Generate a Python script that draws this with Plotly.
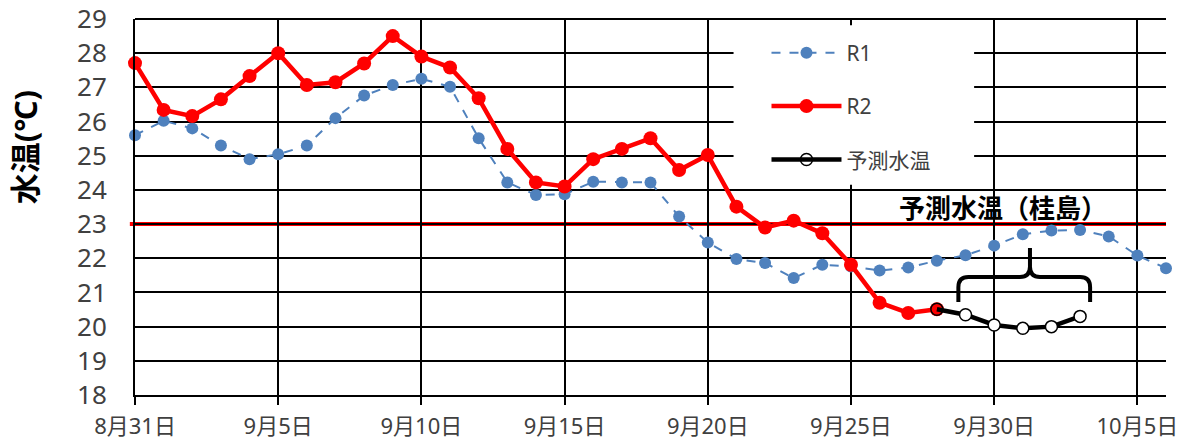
import plotly.graph_objects as go
import pandas as pd

# ---- data ----
dates_r1 = pd.date_range("2021-08-31", "2021-10-06").strftime("%Y-%m-%d").tolist()
r1 = [25.6, 26.02, 25.8, 25.3, 24.9, 25.04, 25.3, 26.1, 26.76, 27.07,
      27.25, 27.02, 25.51, 24.22, 23.85, 23.87, 24.24, 24.22, 24.22, 23.22,
      22.46, 21.98, 21.86, 21.42, 21.81, 21.76, 21.64, 21.73, 21.93, 22.09,
      22.37, 22.7, 22.81, 22.83, 22.64, 22.08, 21.71]
dates_r2 = dates_r1[:29]
r2 = [27.71, 26.34, 26.16, 26.65, 27.33, 28.0, 27.07, 27.15, 27.7, 28.5,
      27.9, 27.58, 26.68, 25.2, 24.22, 24.1, 24.9, 25.2, 25.51, 24.58,
      25.02, 23.51, 22.9, 23.1, 22.73, 21.81, 20.7, 20.4, 20.51]
dates_fc = dates_r1[28:34]
forecast = [20.51, 20.35, 20.05, 19.95, 20.0, 20.3]
threshold = 23.0
tick_dates = ["2021-08-31", "2021-09-05", "2021-09-10", "2021-09-15",
              "2021-09-20", "2021-09-25", "2021-09-30", "2021-10-05"]
tick_labels = ["8月31日", "9月5日", "9月10日", "9月15日", "9月20日", "9月25日", "9月30日", "10月5日"]
y_ticks = list(range(18, 30))

FONT = "Noto Sans, Noto Sans CJK JP, sans-serif"
GRAY = "#404040"

fig = go.Figure()
fig.add_trace(go.Scatter(
    x=dates_r1, y=r1, name="R1", mode="lines+markers", legendgroup="a",
    line=dict(color="#4F81BD", width=2, dash="dash"),
    marker=dict(color="#4F81BD", size=12), cliponaxis=False))
fig.add_trace(go.Scatter(
    x=dates_r2, y=r2, name="R2", mode="lines+markers", legendgroup="b",
    line=dict(color="#FF0000", width=4.5),
    marker=dict(color="#FF0000", size=14), cliponaxis=False))
fc_fill = ["rgba(0,0,0,0)"] + ["white"] * (len(forecast) - 1)
fig.add_trace(go.Scatter(
    x=dates_fc, y=forecast, name="予測水温", mode="lines+markers", legendgroup="c",
    line=dict(color="black", width=4.5),
    marker=dict(color=fc_fill, size=12, line=dict(color="black", width=1.5)),
    cliponaxis=False))

# ---- layout geometry ----
W, H = 1182, 448
ml, mr, mt, mb = 135, 16, 19, 53
x0d = pd.Timestamp("2021-08-31")
x1d = pd.Timestamp("2021-10-06")
ymin, ymax = 18, 29
ndays = (x1d - x0d).days

def xp(day_offset):
    return day_offset / ndays

def yp(v):
    return (v - ymin) / (ymax - ymin)

# white box behind legend (covers gridlines)
shapes = [dict(type="rect", xref="paper", yref="paper",
               x0=xp(20.9), x1=xp(29.3), y0=yp(24.15), y1=yp(28.82),
               fillcolor="white", line=dict(width=0), layer="above")]
# threshold line
shapes.append(dict(type="line", xref="paper", yref="y", x0=-0.005, x1=1,
                   y0=threshold, y1=threshold,
                   line=dict(color="#FF0000", width=4), layer="between"))
# top border line (top gridline at 29)
shapes.append(dict(type="line", xref="paper", yref="paper", x0=0, x1=1,
                   y0=1, y1=1, line=dict(color="black", width=2), layer="below"))
# brace over forecast period
bl, bc, br = 28.75, 31.25, 33.35
yb, ym, yt = 20.72, 21.45, 22.3
r = 0.35
rv = 0.3
path = (f"M {xp(bl)},{yp(yb)} L {xp(bl)},{yp(ym - rv)} "
        f"Q {xp(bl)},{yp(ym)} {xp(bl + r)},{yp(ym)} "
        f"L {xp(bc - r)},{yp(ym)} Q {xp(bc)},{yp(ym)} {xp(bc)},{yp(ym + rv)} "
        f"L {xp(bc)},{yp(yt)} "
        f"M {xp(bc)},{yp(ym + rv)} Q {xp(bc)},{yp(ym)} {xp(bc + r)},{yp(ym)} "
        f"L {xp(br - r)},{yp(ym)} Q {xp(br)},{yp(ym)} {xp(br)},{yp(ym - rv)} "
        f"L {xp(br)},{yp(yb)}")
shapes.append(dict(type="path", xref="paper", yref="paper", path=path,
                   line=dict(color="black", width=4), layer="above"))

fig.update_layout(
    width=W, height=H,
    margin=dict(l=ml, r=mr, t=mt, b=mb, pad=0, autoexpand=False),
    paper_bgcolor="white", plot_bgcolor="white",
    font=dict(family=FONT, color=GRAY),
    showlegend=True,
    legend=dict(x=xp(22.05), y=yp(28.6), xanchor="left", yanchor="top",
                bgcolor="rgba(0,0,0,0)", font=dict(size=21, color=GRAY, family=FONT),
                itemwidth=70, tracegroupgap=23, traceorder="grouped"),
    shapes=shapes,
    annotations=[
        dict(text="<b>予測水温（桂島）</b>", xref="paper", yref="paper",
             x=xp(30.3), y=yp(23.47), xanchor="center", yanchor="middle",
             showarrow=False, font=dict(size=26, color="black", family=FONT)),
        dict(text="<b>水温(℃)</b>", xref="paper", yref="paper",
             x=(25 - ml) / (W - ml - mr), y=yp(25.25), xanchor="center", yanchor="middle",
             textangle=-90, showarrow=False,
             font=dict(size=31, color="black", family=FONT)),
    ],
)
fig.update_xaxes(
    type="date", range=[x0d, x1d], automargin=False,
    tickvals=tick_dates, ticktext=tick_labels,
    showgrid=True, gridcolor="black", gridwidth=2,
    showline=True, linecolor="black", linewidth=2,
    ticks="outside", ticklen=8, tickwidth=2, tickcolor="black",
    ticklabelstandoff=3, ticklabeloverflow="allow",
    tickfont=dict(size=22, color=GRAY, family=FONT),
    zeroline=False)
fig.update_yaxes(
    range=[ymin, ymax + 1e-6], tickvals=y_ticks, automargin=False,
    showgrid=True, gridcolor="black", gridwidth=2,
    showline=True, linecolor="black", linewidth=2,
    ticks="", ticklabelstandoff=21, ticklabeloverflow="allow",
    tickfont=dict(size=26, color=GRAY, family=FONT),
    zeroline=False)

fig.write_html("out.html", config={"displayModeBar": False},
               post_script="document.body.style.margin='0px';")
